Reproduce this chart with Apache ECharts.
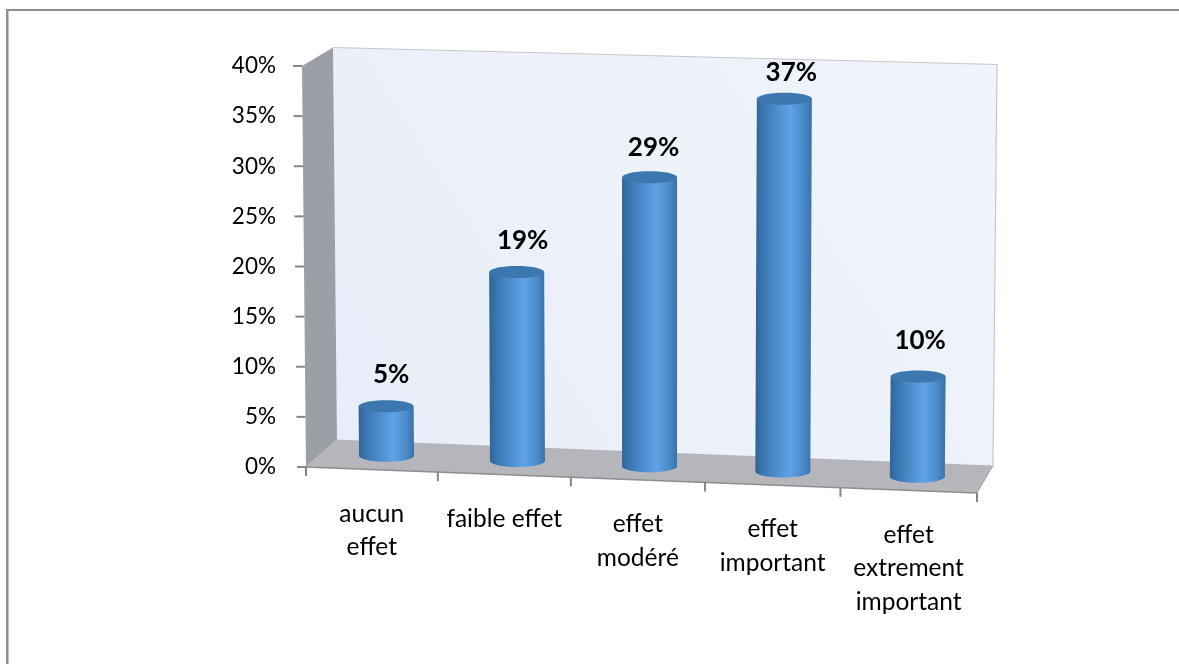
<!DOCTYPE html>
<html><head><meta charset="utf-8">
<style>html,body{margin:0;padding:0;background:#fff}#c{width:1179px;height:664px}</style>
<script src="https://cdn.jsdelivr.net/npm/echarts@6/dist/echarts.min.js"></script>
</head><body><div id="c"></div>
<script>
const categories = ['aucun\neffet', 'faible effet', 'effet\nmodéré', 'effet\nimportant', 'effet\nextrement\nimportant'];
const values = [5, 19, 29, 37.3, 10];
const tickValues = [0, 5, 10, 15, 20, 25, 30, 35, 40];
const labelNudge = [[5, -32], [6, -31], [4, -30], [7, -26], [2, -36]];

const FONT = 'Lato, "Open Sans", sans-serif';
const chart = echarts.init(document.getElementById('c'));

// Oblique projection of the flat grid onto the chart's 3D box.
function proj(cs, px, py, d, v) {
  const t = (px - cs.x) / cs.width;
  const tw = t - 0.022 * t * (1 - t);
  const bottom = cs.y + cs.height;
  const x = cs.x + tw * cs.width + d * (31 - 15 * t) + (v / 40) * (-4 + 8 * t);
  const floorY = bottom + 26 * t - 27.5 * d;
  const h = (bottom - py) * (1 - d * (1 - t) * 0.0225);
  return [x, floorY - h];
}

function renderBox(params, api) {
  const cs = params.coordSys;
  const L = cs.x, R = cs.x + cs.width;
  const y0 = api.coord([0, 0])[1], y40 = api.coord([0, 40])[1];
  const P = (x, y, d, v) => proj(cs, x, y, d, v);
  const kids = [];
  // back wall
  kids.push({ type: 'polygon', shape: { points: [P(L, y40, 1, 40), P(R, y40, 1, 40), P(R, y0, 1, 0), P(L, y0, 1, 0)] },
    style: { fill: new echarts.graphic.LinearGradient(0, 1, 1, 0, [{ offset: 0, color: '#E8EEF9' }, { offset: 1, color: '#F0F4FB' }]) } });
  // top and right edge of back wall
  kids.push({ type: 'polyline', shape: { points: [P(L, y40, 1, 40), P(R, y40, 1, 40), P(R, y0, 1, 0)] },
    style: { stroke: '#C6C7CA', lineWidth: 1.2, fill: null } });
  // left wall
  kids.push({ type: 'polygon', shape: { points: [P(L, y40, 0, 40), P(L, y40, 1, 40), P(L, y0, 1, 0), P(L, y0, 0, 0)] },
    style: { fill: '#9C9FA5' } });
  // floor
  kids.push({ type: 'polygon', shape: { points: [P(L, y0, 0, 0), P(L, y0, 1, 0), P(R, y0, 1, 0), P(R, y0, 0, 0)] },
    style: { fill: '#B5B6BB' } });
  // front floor edge
  kids.push({ type: 'line', shape: { x1: P(L, y0, 0, 0)[0], y1: P(L, y0, 0, 0)[1], x2: P(R, y0, 0, 0)[0], y2: P(R, y0, 0, 0)[1] },
    style: { stroke: '#8E8E8E', lineWidth: 1.5 } });
  kids.push({ type: 'line', shape: { x1: P(R, y0, 0, 0)[0], y1: P(R, y0, 0, 0)[1], x2: P(R, y0, 1, 0)[0], y2: P(R, y0, 1, 0)[1] },
    style: { stroke: '#A5A5A5', lineWidth: 1 } });
  // value ticks
  tickValues.forEach(v => {
    const p = P(L, api.coord([0, v])[1], 0, v);
    kids.push({ type: 'line', shape: { x1: p[0] - 9, y1: p[1], x2: p[0], y2: p[1] }, style: { stroke: '#858585', lineWidth: 2 } });
  });
  // category ticks
  for (let i = 0; i <= categories.length; i++) {
    const p = P(L + cs.width * i / categories.length, y0, 0, 0);
    kids.push({ type: 'line', shape: { x1: p[0], y1: p[1], x2: p[0], y2: p[1] + 9 }, style: { stroke: '#858585', lineWidth: 2 } });
  }
  return { type: 'group', children: kids };
}

function renderBar(params, api) {
  const cs = params.coordSys;
  const i = api.value(0), v = api.value(1);
  const base = api.coord([i, 0]), top = api.coord([i, v]);
  const b = proj(cs, base[0], base[1], 0.5, 0);
  const a = proj(cs, top[0], top[1], 0.5, v);
  const rx = 27.5, ry = 6;
  const grad = () => new echarts.graphic.LinearGradient(0, 0, 1, 0, [
    { offset: 0, color: '#2F6395' }, { offset: 0.12, color: '#3A74AD' }, { offset: 0.35, color: '#4B8ACB' },
    { offset: 0.62, color: '#5FA4E6' }, { offset: 0.85, color: '#4A8BC9' }, { offset: 1, color: '#3A72A8' }]);
  return { type: 'group', children: [
    { type: 'ellipse', shape: { cx: b[0], cy: b[1], rx: rx, ry: ry }, style: { fill: grad() } },
    { type: 'polygon', shape: { points: [[a[0] - rx, a[1]], [a[0] + rx, a[1]], [b[0] + rx, b[1]], [b[0] - rx, b[1]]] }, style: { fill: grad() } },
    { type: 'ellipse', shape: { cx: a[0], cy: a[1], rx: rx, ry: ry }, style: { fill: '#3C78AF' } },
    { type: 'text', style: { text: Math.round(v) + '%', x: a[0] + labelNudge[i][0], y: a[1] + labelNudge[i][1],
        align: 'center', verticalAlign: 'middle', fill: '#000', font: 'bold 26px ' + FONT } }
  ] };
}

function renderCat(params, api) {
  const cs = params.coordSys;
  const i = api.value(0);
  const c = api.coord([i, 0]);
  const p = proj(cs, c[0], c[1], 0, 0);
  return { type: 'text', style: { text: categories[i], x: p[0], y: p[1] + 27.5, align: 'center', verticalAlign: 'top',
    fill: '#000', font: '24.5px ' + FONT, lineHeight: 33.5 } };
}

const barData = values.map((v, i) => [i, v]);

chart.setOption({
  animation: false,
  backgroundColor: '#fff',
  graphic: [
    { type: 'rect', shape: { x: 6, y: 9, width: 1173, height: 2 }, style: { fill: '#8F8F8F' } },
    { type: 'rect', shape: { x: 6, y: 9, width: 2.5, height: 655 }, style: { fill: '#8F8F8F' } }
  ],
  grid: { left: 306, top: 66, width: 671, height: 401 },
  xAxis: { type: 'category', data: categories, show: false },
  yAxis: { type: 'value', min: 0, max: 40, interval: 5, splitLine: { show: false }, axisLine: { show: false }, axisTick: { show: false },
    axisLabel: { formatter: '{value}%', fontFamily: FONT, fontSize: 22.5, color: '#000', margin: 30 } },
  series: [
    { type: 'custom', z: 1, silent: true, renderItem: renderBox, data: [[0, 0]], clip: false },
    { type: 'custom', z: 2, silent: true, renderItem: renderBar, data: barData, clip: false },
    { type: 'custom', z: 3, silent: true, renderItem: renderCat, data: barData, clip: false }
  ]
});
</script></body></html>
